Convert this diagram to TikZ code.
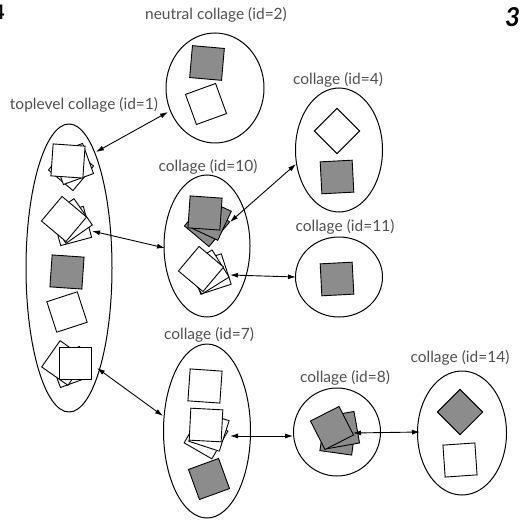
\documentclass[tikz,border=0pt]{standalone}
\usepackage{fontspec}
\setmainfont{Lato}
\usetikzlibrary{arrows.meta,shapes.geometric}
\definecolor{boxgray}{HTML}{8C8C8C}
\definecolor{labelgray}{HTML}{505050}

\begin{document}
\begin{tikzpicture}[x=1pt,y=-1pt,
  coll/.style={draw, ellipse, line width=1pt, inner sep=0pt},
  lbl/.style={text=labelgray, font=\fontsize{15.5}{17}\selectfont, inner sep=0pt},
  wsq/.style={draw, fill=white, rectangle, line width=0.9pt, minimum size=32pt, inner sep=0pt},
  gsq/.style={wsq, fill=boxgray},
  link/.style={{Latex[length=8pt,width=5pt]}-{Latex[length=8pt,width=5pt]}, line width=0.9pt}
]
\clip (0,0) rectangle (519,521);
\fill[white] (0,0) rectangle (519,521);

% page-corner digits
\node[anchor=east, inner sep=0pt, font=\fontsize{20}{20}\selectfont\bfseries] (pgl) at (5,12) {4};
\node[anchor=west, inner sep=0pt, font=\fontsize{26}{26}\selectfont\bfseries\itshape] (pgr) at (505,17) {3};

% collages
\node[coll, minimum width=86pt, minimum height=288pt] (c1) at (69,268) {};
\node[coll, minimum width=98pt, minimum height=110pt] (c2) at (215,88) {};
\node[coll, minimum width=87pt, minimum height=124pt] (c4) at (339,150) {};
\node[coll, minimum width=86pt, minimum height=142pt] (c10) at (207,246) {};
\node[coll, minimum width=87pt, minimum height=80pt] (c11) at (339,277) {};
\node[coll, minimum width=87pt, minimum height=174pt] (c7) at (207,431) {};
\node[coll, minimum width=87pt, minimum height=88pt] (c8) at (337,432) {};
\node[coll, minimum width=89pt, minimum height=124pt] (c14) at (462,433) {};

% labels
\node[lbl] (l2) at (216,15) {neutral collage (id=2)};
\node[lbl] (l1) at (84,105) {toplevel collage (id=1)};
\node[lbl] (l4) at (338,80) {collage (id=4)};
\node[lbl] (l10) at (208,167) {collage (id=10)};
\node[lbl] (l11) at (345,227) {collage (id=11)};
\node[lbl] (l7) at (209,335) {collage (id=7)};
\node[lbl] (l8) at (345,378) {collage (id=8)};
\node[lbl] (l14) at (460,358) {collage (id=14)};

% contents of collage 1
\node[wsq, rotate=-40] (a1) at (71,168) {};
\node[wsq, rotate=20] (a2) at (73,164) {};
\node[wsq, rotate=-4] (a3) at (68,161) {};
\node[wsq, rotate=15] (b1) at (72,226) {};
\node[wsq, rotate=35] (b2) at (70,221) {};
\node[wsq, rotate=50] (b3) at (64,219) {};
\node[gsq, rotate=-4] (g1) at (67,272) {};
\node[wsq, rotate=18] (w1) at (67,312) {};
\node[wsq, rotate=20] (e1) at (70,367) {};
\node[wsq, rotate=55] (e2) at (64,363) {};
\node[wsq, rotate=0] (e3) at (75,363) {};

% contents of collage 2
\node[gsq, rotate=-5] (g2) at (207,63) {};
\node[wsq, rotate=20] (w2) at (206,104) {};

% contents of collage 4
\node[wsq, rotate=45] (w4) at (337,131) {};
\node[gsq, rotate=3] (g4) at (337,177) {};

% contents of collage 10
\node[gsq, rotate=-40] (f1) at (207,224) {};
\node[gsq, rotate=-25] (f2) at (210,219) {};
\node[gsq, rotate=-4] (f3) at (205,213) {};
\node[wsq, rotate=18] (h1) at (211,274) {};
\node[wsq, rotate=32] (h2) at (207,272) {};
\node[wsq, rotate=50] (h3) at (201,269) {};

% contents of collage 11
\node[gsq, rotate=3] (g11) at (337,279) {};

% contents of collage 7
\node[wsq, rotate=-4] (w7) at (205,386) {};
\node[wsq, rotate=-30] (k1) at (206,437) {};
\node[wsq, rotate=-18] (k2) at (209,431) {};
\node[wsq, rotate=-3] (k3) at (206,425) {};
\node[gsq, rotate=20] (g7) at (209,479) {};

% contents of collage 8
\node[gsq, rotate=-8] (m1) at (338,437) {};
\node[gsq, rotate=10] (m2) at (341,430) {};
\node[gsq, rotate=27] (m3) at (332,428) {};

% contents of collage 14
\node[gsq, rotate=45] (g14) at (460,412) {};
\node[wsq, rotate=4] (w14) at (460,460) {};

% link end points
\coordinate (p1a) at (96,152);
\coordinate (p2a) at (168,112);
\coordinate (p1b) at (92,231);
\coordinate (p10a) at (165,248);
\coordinate (p10b) at (230,222);
\coordinate (p4a) at (296,164);
\coordinate (p10c) at (230,275);
\coordinate (p11a) at (296,277);
\coordinate (p1c) at (97,368);
\coordinate (p7a) at (163,416);
\coordinate (p7b) at (230,436);
\coordinate (p8a) at (293,436);
\coordinate (p8b) at (353,433);
\coordinate (p14a) at (420,432);

% links
\draw[link] (p1a) -- (p2a);
\draw[link] (p1b) -- (p10a);
\draw[link] (p10b) -- (p4a);
\draw[link] (p10c) -- (p11a);
\draw[link] (p1c) -- (p7a);
\draw[link] (p7b) -- (p8a);
\draw[link] (p8b) -- (p14a);
\end{tikzpicture}
\end{document}
